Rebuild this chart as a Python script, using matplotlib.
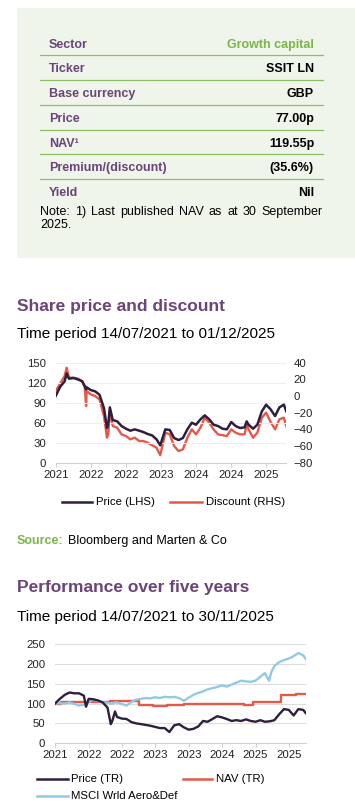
import numpy as np
import pandas as pd
import matplotlib
matplotlib.use("Agg")
import matplotlib.pyplot as plt
import matplotlib.dates as mdates
from matplotlib.lines import Line2D
from matplotlib.patches import Rectangle

plt.rcParams['font.family'] = ['Liberation Sans', 'DejaVu Sans']

# ---- fact table ----
table_labels = ["Sector", "Ticker", "Base currency", "Price", "NAV¹", "Premium/(discount)", "Yield"]
table_values = ["Growth capital", "SSIT LN", "GBP", "77.00p", "119.55p", "(35.6%)", "Nil"]
note_line1 = "Note: 1) Last published NAV as at 30 September"
note_line2 = "2025."

# ---- share price and discount ----
dates1 = ["2021-07-14", "2021-08-14", "2021-09-14", "2021-09-28", "2021-10-14", "2021-11-14",
          "2021-12-14", "2022-01-14", "2022-02-01", "2022-02-10", "2022-02-14", "2022-03-14",
          "2022-04-14", "2022-05-14", "2022-06-14", "2022-07-05", "2022-07-14", "2022-07-25",
          "2022-08-14", "2022-09-14", "2022-10-14", "2022-11-14", "2022-12-14", "2023-01-14",
          "2023-02-14", "2023-03-14", "2023-04-14", "2023-05-14", "2023-06-14", "2023-07-10",
          "2023-08-14", "2023-09-14", "2023-10-14", "2023-11-14", "2023-12-14", "2024-01-14",
          "2024-02-14", "2024-03-14", "2024-04-14", "2024-05-14", "2024-06-14", "2024-07-14",
          "2024-08-14", "2024-09-14", "2024-10-14", "2024-11-14", "2024-12-14", "2025-01-14",
          "2025-02-14", "2025-03-01", "2025-03-14", "2025-04-14", "2025-05-14", "2025-06-14",
          "2025-07-14", "2025-08-14", "2025-09-14", "2025-10-14", "2025-11-14", "2025-12-01"]
price1 = [100, 114, 122, 134, 126, 127,
          125, 122, 115, 110, 113, 109,
          107, 102, 82, 52, 58, 83,
          64, 62, 55, 51, 48, 50,
          48, 46, 43, 41, 35, 26,
          50, 49, 37, 34, 37, 50,
          60, 57, 65, 71, 65, 57,
          55, 51, 50, 61, 55, 52,
          53, 62, 57, 51, 57, 77,
          87, 80, 70, 83, 87, 77]
discount1 = [6, 15, 24, 34, 22, 22,
             21, 18, 10, -12, 6, 2,
             0, -4, -24, -50, -46, -18,
             -36, -38, -46, -48, -52, -50,
             -54, -54, -56, -59, -62, -71,
             -44, -46, -60, -66, -64, -50,
             -40, -46, -38, -26, -32, -40,
             -46, -47, -48, -40, -44, -46,
             -46, -34, -40, -50, -44, -26,
             -20, -31, -40, -28, -26, -36]

# ---- performance over five years ----
dates2 = ["2021-07-14", "2021-08-14", "2021-09-14", "2021-10-14", "2021-11-14", "2021-12-14",
          "2022-01-14", "2022-01-28", "2022-02-14", "2022-03-14", "2022-04-14", "2022-05-14",
          "2022-06-14", "2022-07-05", "2022-07-14", "2022-08-01", "2022-08-14", "2022-09-14",
          "2022-10-14", "2022-11-14", "2022-12-14", "2023-01-14", "2023-02-14", "2023-03-14",
          "2023-04-14", "2023-05-14", "2023-06-14", "2023-07-14", "2023-08-14", "2023-09-14",
          "2023-10-14", "2023-11-14", "2023-12-14", "2024-01-14", "2024-02-14", "2024-03-14",
          "2024-04-14", "2024-05-14", "2024-06-14", "2024-07-14", "2024-08-14", "2024-09-14",
          "2024-10-14", "2024-11-14", "2024-12-14", "2025-01-14", "2025-02-14", "2025-03-14",
          "2025-04-10", "2025-04-25", "2025-05-14", "2025-06-14", "2025-07-14", "2025-08-14",
          "2025-09-14", "2025-10-14", "2025-11-14", "2025-11-30"]
price2 = [100, 112, 122, 128, 126, 126,
          120, 92, 112, 111, 108, 103,
          90, 48, 55, 80, 66, 62,
          61, 53, 50, 48, 46, 44,
          41, 38, 38, 28, 45, 48,
          40, 34, 36, 42, 56, 54,
          61, 68, 65, 61, 56, 58,
          56, 60, 56, 54, 58, 54,
          55, 56, 58, 73, 86, 84,
          70, 86, 84, 76]
msci2 = [100, 101, 100, 103, 99, 95,
         97, 99, 104, 110, 106, 103,
         102, 100, 100, 103, 103, 99,
         95, 104, 110, 112, 114, 113,
         116, 114, 117, 116, 117, 114,
         107, 115, 122, 127, 131, 136,
         139, 142, 146, 143, 148, 153,
         158, 156, 155, 158, 168, 177,
         158, 180, 195, 205, 210, 214,
         220, 228, 222, 213]
nav_dates = ["2021-07-14", "2021-08-20", "2021-12-31", "2022-06-30", "2022-12-31", "2023-03-31",
             "2023-06-30", "2023-10-15", "2024-10-31", "2024-12-31", "2025-06-25", "2025-09-30",
             "2025-11-30"]
nav2 = [100, 103, 105, 107, 96, 94, 96, 98, 96, 104, 121, 123, 123]

PURPLE = "#6b4479"
GREEN = "#7ab648"
DARK = "#2d1f3d"
RED = "#e4594a"
BLUE = "#92c9e3"

W, H = 355, 810
fig = plt.figure(figsize=(W / 100, H / 100), dpi=100)


def fx(x):
    return x / W


def fy(y):
    return 1 - y / H


def ftext(x, y, s, **kw):
    return fig.text(fx(x), fy(y), s, **kw)


def fline(x0, x1, y, color, lw=1.0):
    fig.add_artist(Line2D([fx(x0), fx(x1)], [fy(y), fy(y)], color=color, lw=lw))


# green info box
fig.add_artist(Rectangle((fx(17), fy(258)), fx(355) - fx(17), fy(8) - fy(258),
                         facecolor="#eff5ea", edgecolor="none"))
baselines = [48.3, 72.3, 97.3, 122, 146.7, 171.3, 196]
for i, (lab, val) in enumerate(zip(table_labels, table_values)):
    ftext(49, baselines[i], lab, color=PURPLE, fontsize=9, fontweight="bold", va="baseline")
    ftext(314, baselines[i], val, color=GREEN if i == 0 else "black", fontsize=9,
          fontweight="bold", va="baseline", ha="right")
for y in [55.3, 80, 105.3, 130, 154.3, 179.3]:
    fline(40, 323, y, "#8dc063", lw=0.9)

# justified note line (words spread between 40 and 323 px)
renderer = fig.canvas.get_renderer()
words = note_line1.split(" ")
wtexts = [ftext(0, 215, w, fontsize=9, va="baseline") for w in words]
widths = [t.get_window_extent(renderer).width for t in wtexts]
gap = (323 - 40 - sum(widths)) / (len(words) - 1)
xpos = 40
for t, wd in zip(wtexts, widths):
    t.set_x(fx(xpos))
    xpos += wd + gap
ftext(40, 227.7, note_line2, fontsize=9, va="baseline")

# headings
ftext(17, 310.7, "Share price and discount", color=PURPLE, fontsize=12.5, fontweight="bold", va="baseline")
ftext(17, 338.3, "Time period 14/07/2021 to 01/12/2025", fontsize=11, va="baseline")
ftext(17, 591.7, "Performance over five years", color=PURPLE, fontsize=12.5, fontweight="bold", va="baseline")
ftext(17, 621, "Time period 14/07/2021 to 30/11/2025", fontsize=11, va="baseline")


def style_axis(ax, grid_color):
    for s in ["top", "right", "left"]:
        ax.spines[s].set_visible(False)
    ax.spines["bottom"].set_color("#d0d0d0")
    ax.yaxis.grid(True, color=grid_color, lw=0.8)
    ax.set_axisbelow(True)
    ax.tick_params(axis="y", length=0, pad=7, labelsize=8.2, colors="#222222")
    ax.tick_params(axis="x", length=3, color="#d0d0d0", pad=2, labelsize=8.2, labelcolor="#222222")
    ax.xaxis.set_major_formatter(mdates.DateFormatter("%Y"))


# chart 1
d1 = pd.to_datetime(dates1)
ax1 = fig.add_axes([fx(55.7), fy(462.7), fx(286.3) - fx(55.7), fy(362.7) - fy(462.7)])
ax1r = ax1.twinx()
ax1r.plot(d1, discount1, color=RED, lw=1.7, zorder=2)
ax1.plot(d1, price1, color=DARK, lw=1.8, zorder=3)
ax1.set_zorder(ax1r.get_zorder() + 1)
ax1.patch.set_visible(False)
ax1.set_ylim(0, 150)
ax1.set_yticks(np.arange(0, 151, 30))
ax1r.set_ylim(-80, 40)
ax1r.set_yticks(np.arange(-80, 41, 20))
ax1.set_xlim(d1[0], d1[-1])
ax1.set_xticks(pd.date_range("2021-07-14", periods=7, freq=pd.DateOffset(months=8)))
style_axis(ax1, "#eeeeee")
for s in ["top", "right", "left", "bottom"]:
    ax1r.spines[s].set_visible(False)
ax1r.tick_params(axis="y", length=0, pad=5, labelsize=8.2, colors="#222222")

# legend 1
fline(61.7, 92.3, 502, DARK, lw=1.8)
ftext(96, 502, "Price (LHS)", fontsize=8.2, va="center")
fline(170, 201.7, 502, RED, lw=1.8)
ftext(206, 502, "Discount (RHS)", fontsize=8.2, va="center")

# source
ftext(17, 544.3, "Source:", color=GREEN, fontsize=9, fontweight="bold", va="baseline")
ftext(68, 544.3, "Bloomberg and Marten & Co", fontsize=9, va="baseline")

# chart 2
d2 = pd.to_datetime(dates2)
ax2 = fig.add_axes([fx(55), fy(743.1), fx(305.7) - fx(55), fy(644.3) - fy(743.1)])
ax2.plot(pd.to_datetime(nav_dates), nav2, color=RED, lw=1.7, drawstyle="steps-post", zorder=2)
ax2.plot(d2, msci2, color=BLUE, lw=1.7, zorder=3)
ax2.plot(d2, price2, color=DARK, lw=1.7, zorder=4)
ax2.set_ylim(0, 250)
ax2.set_yticks(np.arange(0, 251, 50))
ax2.set_xlim(d2[0], d2[-1])
ax2.set_xticks(pd.date_range("2021-07-14", periods=8, freq=pd.DateOffset(months=7)))
style_axis(ax2, "#dddddd")

# legend 2
fline(36.7, 68.3, 778.5, DARK, lw=1.8)
ftext(71, 778.5, "Price (TR)", fontsize=8.2, va="center")
fline(182.7, 211.7, 778.5, RED, lw=1.8)
ftext(216, 778.5, "NAV (TR)", fontsize=8.2, va="center")
fline(36.7, 68.3, 796, BLUE, lw=1.8)
ftext(71, 796, "MSCI Wrld Aero&Def", fontsize=8.2, va="center")

fig.savefig("out.png", dpi=100)
